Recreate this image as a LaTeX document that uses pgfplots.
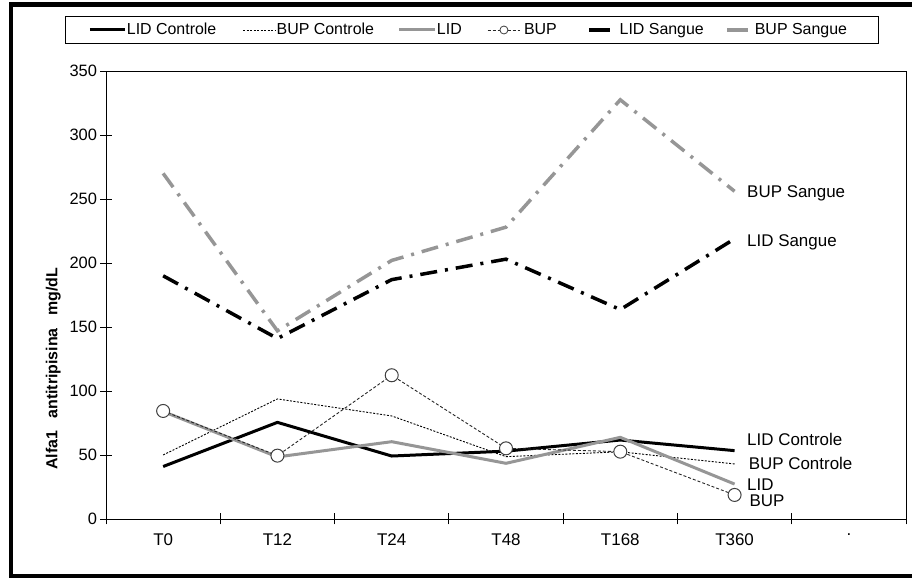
\documentclass[border=0pt]{standalone}
\usepackage{pgfplots}
\pgfplotsset{compat=1.18}
\usepackage{fontspec}
\setmainfont{Liberation Sans}
\definecolor{lgray}{RGB}{150,150,150}
\pgfplotstableread{
x lidc bupc lid bup lids bups
0 41   50   84  84.4 190 270
1 75.5 93.8 48.5 49.5 141 147
2 49.2 80.5 60.4 112.3 187 202
3 53   48.7 43.5 55.2 203 228
4 61.7 52.5 63.8 52.6 163.6 327.5
5 53.4 43   27.3 18.8 218.9 256
}\datatable
\tikzset{
  lidcst/.style={black, line width=3bp},
  bupcst/.style={black, line width=0.9bp, dash pattern=on 2bp off 1.5bp},
  lidst/.style={lgray, line width=3bp},
  bupst/.style={black!85, line width=0.9bp, dash pattern=on 3bp off 2bp},
  sangst/.style={line width=3.5bp, dash pattern=on 17bp off 8bp on 3bp off 8bp},
}
\begin{document}
\begin{tikzpicture}[x=1bp,y=1bp]
\begin{axis}[
  scale only axis, width=800bp, height=448bp,
  clip=false,
  xmin=-0.5, xmax=6.5, ymin=0, ymax=350,
  ytick={0,50,...,350},
  xtick={0,...,6},
  xticklabels={T0,T12,T24,T48,T168,T360,.},
  minor xtick={-0.5,0.5,...,6.5},
  tick align=center, tick pos=left,
  major tick length=11bp, minor tick length=11bp,
  major x tick style={draw=none},
  every tick/.style={black, line width=0.8bp},
  axis line style={line width=0.8bp},
  /pgf/number format/assume math mode=true,
  yticklabel style={font=\fontsize{16.5}{19}\selectfont},
  xticklabel style={font=\fontsize{17}{20}\selectfont, yshift=-6bp},
  legend columns=6,
  legend style={at={(axis description cs:-0.05125,1.0915)}, anchor=west,
    draw=black, line width=0.8bp, font=\fontsize{16}{19}\selectfont,
    inner xsep=0bp, inner ysep=6.5bp,
    nodes={inner xsep=0bp, inner ysep=0bp, text height=11.5bp, text depth=3bp},
    column sep=0bp},
  legend cell align=left,
]
\addplot[lidcst, forget plot] table[x=x,y=lidc] {\datatable};
\addplot[bupcst, forget plot] table[x=x,y=bupc] {\datatable};
\addplot[lidst, forget plot] table[x=x,y=lid] {\datatable};
\addplot[bupst, mark=*, mark size=6.5bp, mark options={solid, fill=white, draw=black!75, line width=1bp}, forget plot] table[x=x,y=bup] {\datatable};
\addplot[black, sangst, forget plot] table[x=x,y=lids] {\datatable};
\addplot[lgray, sangst, forget plot] table[x=x,y=bups] {\datatable};
\addlegendimage{legend image code/.code={\path (-24bp,0) (35.6bp,0); \draw[lidcst] (0,0) -- (35.6bp,0);}}
\addlegendentry{LID Controle}
\addlegendimage{legend image code/.code={\path (-26.4bp,0) (33bp,0); \draw[bupcst] (0,0) -- (33bp,0);}}
\addlegendentry{BUP Controle}
\addlegendimage{legend image code/.code={\path (-25bp,0) (36bp,0); \draw[lidst] (0,0) -- (36bp,0);}}
\addlegendentry{LID}
\addlegendimage{legend image code/.code={\path (-25.5bp,0) (36bp,0); \draw[bupst] (0,0) -- (32.5bp,0); \draw[black!75, line width=0.8bp, fill=white] (16.25bp,0) circle[radius=4bp];}}
\addlegendentry{BUP}
\addlegendimage{legend image code/.code={\path (-32bp,0) (30bp,0); \draw[black, line width=3.5bp] (0,0) -- (21bp,0);}}
\addlegendentry{LID Sangue}
\addlegendimage{legend image code/.code={\path (-23.2bp,0) (27bp,0); \draw[lgray, line width=3.5bp] (0,0) -- (21bp,0);}}
\addlegendentry{BUP Sangue\hspace*{31bp}}
\node[rotate=90, anchor=center, inner sep=0, font=\fontsize{16}{19}\selectfont\bfseries] at (rel axis cs:-0.066,0.335) {Alfa1\hspace{8bp} antitripisina\hspace{8bp} mg/dL};
\node[anchor=base west, inner sep=0, font=\fontsize{17}{20}\selectfont] at (axis cs:5.109,251) {BUP Sangue};
\node[anchor=base west, inner sep=0, font=\fontsize{17}{20}\selectfont] at (axis cs:5.109,212.7) {LID Sangue};
\node[anchor=base west, inner sep=0, font=\fontsize{17}{20}\selectfont] at (axis cs:5.109,57.8) {LID Controle};
\node[anchor=base west, inner sep=0, font=\fontsize{17}{20}\selectfont] at (axis cs:5.123,39) {BUP Controle};
\node[anchor=base west, inner sep=0, font=\fontsize{17}{20}\selectfont] at (axis cs:5.109,22.6) {LID};
\node[anchor=base west, inner sep=0, font=\fontsize{17}{20}\selectfont] at (axis cs:5.13,10.1) {BUP};
\coordinate (O) at (rel axis cs:0,0);
\end{axis}
\pgfresetboundingbox
\begin{scope}[shift={(O)}]
\path[use as bounding box] (-106,-59) rectangle (806,519);
\draw[line width=4.5bp] (806,514.5) -- (-95,514.5) -- (-95,-57) -- (806,-57);
\end{scope}
\end{tikzpicture}
\end{document}
